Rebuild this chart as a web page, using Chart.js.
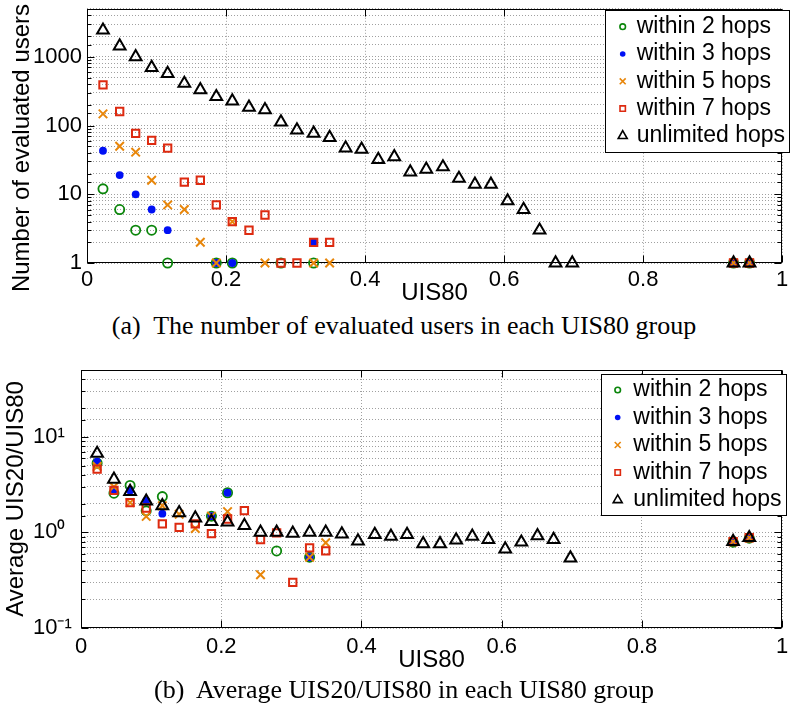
<!DOCTYPE html>
<html><head><meta charset="utf-8">
<script src="https://cdn.jsdelivr.net/npm/chart.js@4.4.1/dist/chart.umd.min.js"></script>
<style>
html,body{margin:0;padding:0;background:#fff;}
#wrap{position:relative;width:791px;height:720px;overflow:hidden;background:#fff;}
.cv{position:absolute;left:0;width:791px;}
.cap{position:absolute;left:0;width:808px;text-align:center;font-family:"Liberation Serif","Times New Roman",serif;font-size:26px;line-height:32px;color:#000;white-space:nowrap;}
</style></head><body>
<div id="wrap">
  <div class="cv" style="top:0;height:310px"><canvas id="c1"></canvas></div>
  <div class="cap" style="top:310px">(a)&nbsp; The number of evaluated users in each UIS80 group</div>
  <div class="cv" style="top:340px;height:335px"><canvas id="c2"></canvas></div>
  <div class="cap" style="top:674px">(b)&nbsp; Average UIS20/UIS80 in each UIS80 group</div>
</div>
<script>
// ---------- data ----------
const seriesNames = ['within 2 hops', 'within 3 hops', 'within 5 hops', 'within 7 hops', 'unlimited hops'];

// UIS80 group centres present in each series
const w2Groups = [0.023, 0.047, 0.070, 0.093, 0.116, 0.186, 0.209, 0.279, 0.326, 0.930, 0.953];
const w3Groups = [0.023, 0.047, 0.070, 0.093, 0.116, 0.186, 0.209, 0.326, 0.930, 0.953];
const w5Groups = [0.023, 0.047, 0.070, 0.093, 0.116, 0.140, 0.163, 0.186, 0.209, 0.256, 0.326, 0.349, 0.930, 0.953];
const w7Groups = [0.023, 0.047, 0.070, 0.093, 0.116, 0.140, 0.163, 0.186, 0.209, 0.233, 0.256, 0.279, 0.302, 0.326, 0.349, 0.930, 0.953];
const allGroups = [0.023, 0.047, 0.070, 0.093, 0.116, 0.140, 0.163, 0.186, 0.209, 0.233, 0.256, 0.279, 0.302, 0.326, 0.349, 0.372, 0.395, 0.419, 0.442, 0.465, 0.488, 0.512, 0.535, 0.558, 0.581, 0.605, 0.628, 0.651, 0.674, 0.698, 0.930, 0.953];

// (a) number of evaluated users
const countW2 = [12, 6, 3, 3, 1, 1, 1, 1, 1, 1, 1];
const countW3 = [43, 19, 10, 6, 3, 1, 1, 2, 1, 1];
const countW5 = [148, 50, 41, 16, 7, 6, 2, 1, 4, 1, 1, 1, 1, 1];
const countW7 = [390, 160, 77, 61, 47, 15, 16, 7, 4, 3, 5, 1, 1, 2, 2, 1, 1];
const countAll = [2440, 1430, 1000, 700, 570, 410, 330, 263, 227, 184, 169, 112, 86, 77, 67, 47, 45, 32, 35, 21, 23, 25, 17, 14, 14, 8, 6, 3, 1, 1, 1, 1];

// (b) average UIS20/UIS80
const ratioW2 = [5.3, 2.57, 3.1, 1.68, 2.37, 1.48, 2.6, 0.64, 0.55, 0.79, 0.87];
const ratioW3 = [5.5, 2.8, 2.75, 2.15, 1.57, 1.48, 2.6, 0.55, 0.79, 0.87];
const ratioW5 = [4.9, 3.0, 2.05, 1.47, 1.9, 1.55, 1.1, 1.48, 1.65, 0.36, 0.55, 0.78, 0.80, 0.88];
const ratioW7 = [4.6, 2.75, 2.05, 1.8, 1.23, 1.13, 1.23, 0.97, 1.38, 1.69, 0.84, 0.99, 0.30, 0.69, 0.64, 0.80, 0.88];
const ratioAll = [6.7, 3.6, 2.67, 2.12, 1.9, 1.6, 1.41, 1.3, 1.28, 1.18, 1.0, 1.0, 0.98, 1.0, 1.0, 0.96, 0.81, 0.95, 0.91, 0.95, 0.76, 0.76, 0.83, 0.91, 0.84, 0.67, 0.79, 0.92, 0.84, 0.54, 0.80, 0.88];

// tick labels
const xTickLabels = ['0', '0.2', '0.4', '0.6', '0.8', '1'];
const countTickLabels = ['1', '10', '100', '1000'];
const ratioTickLabels = ['10\u207B\u00B9', '10\u2070', '10\u00B9'];

// ---------- styles ----------
const FONT = '"Liberation Sans", Arial, Helvetica, sans-serif';
const styles = [
  {pointStyle: 'circle',   pointRadius: 4.6, pointBorderWidth: 1.8, pointBorderColor: '#0b860b', pointBackgroundColor: 'rgba(0,0,0,0)', order: 5, legR: 2.8},
  {pointStyle: 'circle',   pointRadius: 3.9, pointBorderWidth: 0,   pointBorderColor: '#0010f5', pointBackgroundColor: '#0010f5',       order: 4, legR: 2.8},
  {pointStyle: 'crossRot', pointRadius: 6,   pointBorderWidth: 2,   pointBorderColor: '#e8860a', pointBackgroundColor: 'rgba(0,0,0,0)', order: 3, legR: 4.2},
  {pointStyle: 'rect',     pointRadius: 5.2, pointBorderWidth: 2,   pointBorderColor: '#dd2a10', pointBackgroundColor: 'rgba(0,0,0,0)', order: 2, legR: 3.8},
  {pointStyle: 'triangle', pointRadius: 6.8, pointBorderWidth: 2,   pointBorderColor: '#000000', pointBackgroundColor: 'rgba(0,0,0,0)', order: 1, legR: 5.2}
];

function makeDatasets(groupLists, valueLists) {
  return groupLists.map((g, k) => Object.assign({
    label: seriesNames[k],
    data: g.map((x, i) => ({x: x, y: valueLists[k][i]})),
    showLine: false,
    clip: false,
    pointHoverRadius: styles[k].pointRadius
  }, styles[k]));
}

function isPow10(v) {
  const l = Math.log10(v);
  return Math.abs(l - Math.round(l)) < 1e-6;
}

// frame + inward MATLAB style ticks
const frameTicks = {
  id: 'frameTicks',
  beforeDatasetsDraw(chart) {
    const {ctx, chartArea: a, scales} = chart;
    const L = Math.round(a.left) + 0.5, R = Math.round(a.right) - 0.5;
    const T = Math.round(a.top) + 0.5, B = Math.round(a.bottom) - 0.5;
    ctx.save();
    ctx.strokeStyle = '#000';
    ctx.lineWidth = 1;
    ctx.beginPath();
    scales.y.ticks.forEach(t => {
      const p = Math.round(scales.y.getPixelForValue(t.value)) + 0.5;
      const len = isPow10(t.value) ? 7 : 4;
      ctx.moveTo(L, p); ctx.lineTo(L + len, p);
      ctx.moveTo(R, p); ctx.lineTo(R - len, p);
    });
    scales.x.ticks.forEach(t => {
      const p = Math.round(scales.x.getPixelForValue(t.value)) + 0.5;
      ctx.moveTo(p, B); ctx.lineTo(p, B - 7);
      ctx.moveTo(p, T); ctx.lineTo(p, T + 7);
    });
    ctx.stroke();
    ctx.strokeRect(L, T, R - L, B - T);
    ctx.restore();
  }
};

// free-positioned rotated y-axis title (used where the label is longer than the axis)
const sideTitle = {
  id: 'sideTitle',
  afterDraw(chart, args, o) {
    if (!o || !o.text) return;
    const ctx = chart.ctx;
    ctx.save();
    ctx.translate(o.x, o.y);
    ctx.rotate(-Math.PI / 2);
    ctx.font = o.size + 'px ' + FONT;
    ctx.fillStyle = '#000';
    ctx.textAlign = 'center';
    ctx.textBaseline = 'middle';
    ctx.fillText(o.text, 0, 0);
    ctx.restore();
  }
};

// boxed legend inside the axes
const boxLegend = {
  id: 'boxLegend',
  afterDraw(chart, args, o) {
    const ctx = chart.ctx;
    ctx.save();
    ctx.fillStyle = '#fff';
    ctx.fillRect(o.x, o.y, o.w, o.h);
    ctx.strokeStyle = '#000';
    ctx.lineWidth = 1;
    ctx.strokeRect(o.x + 0.5, o.y + 0.5, o.w, o.h);
    ctx.font = o.fontSize + 'px ' + FONT;
    ctx.textBaseline = 'middle';
    ctx.textAlign = 'left';
    chart.data.datasets.forEach((d, i) => {
      const cy = o.y + o.first + i * o.rowH;
      ctx.fillStyle = '#000';
      ctx.fillText(d.label, o.x + o.textX, cy);
      ctx.strokeStyle = d.pointBorderColor;
      ctx.fillStyle = d.pointBackgroundColor;
      ctx.lineWidth = d.pointBorderWidth === 0 ? 0 : 1.6;
      Chart.helpers.drawPoint(ctx, {pointStyle: d.pointStyle, radius: d.legR, borderWidth: d.pointBorderWidth === 0 ? 0 : 1.6, rotation: 0}, o.x + o.markerX, cy);
    });
    ctx.restore();
  }
};

function makeChart(id, datasets, cfg) {
  return new Chart(document.getElementById(id), {
    type: 'scatter',
    data: {datasets: datasets},
    plugins: [frameTicks, sideTitle, boxLegend],
    options: {
      responsive: true,
      maintainAspectRatio: false,
      animation: false,
      events: [],
      layout: {padding: cfg.padding},
      plugins: {legend: {display: false}, tooltip: {enabled: false}, boxLegend: cfg.legend, sideTitle: cfg.sideTitle},
      scales: {
        x: {
          type: 'linear', min: 0, max: 1,
          afterFit: s => { s.height = cfg.xHeight; s.paddingLeft = 0; s.paddingRight = 0; },
          ticks: {stepSize: 0.2, autoSkip: false, maxRotation: 0, padding: cfg.xTickPad, color: '#000',
                  font: {family: FONT, size: 22},
                  callback: v => xTickLabels[Math.round(v / 0.2)] ?? ''},
          grid: {color: '#a0a0a0', lineWidth: 1, drawTicks: false},
          border: {display: false, dash: [1, 2]},
          title: {display: true, text: 'UIS80', color: '#000', font: {family: FONT, size: 24}, padding: {top: 0, bottom: cfg.xTitlePad}}
        },
        y: {
          type: 'logarithmic', min: cfg.yMin, max: cfg.yMax,
          afterFit: s => { s.width = cfg.yWidth; s.paddingTop = 0; s.paddingBottom = 0; },
          ticks: {autoSkip: false, padding: 5, color: '#000', crossAlign: cfg.crossAlign,
                  font: {family: FONT, size: 22},
                  callback: cfg.yLabel},
          grid: {color: '#a0a0a0', lineWidth: 1, drawTicks: false},
          border: {display: false, dash: [1, 2]},
          title: {display: !!cfg.yTitle, text: cfg.yTitle || '', color: '#000', font: {family: FONT, size: 24}, padding: {top: cfg.yTitlePad, bottom: 0}}
        }
      }
    }
  });
}

makeChart('c1',
  makeDatasets([w2Groups, w3Groups, w5Groups, w7Groups, allGroups], [countW2, countW3, countW5, countW7, countAll]),
  {
    padding: {top: 5, right: 1, left: 0, bottom: 0},
    xHeight: 47, xTickPad: 4, xTitlePad: 2,
    yWidth: 87, yMin: 1, yMax: 5000, crossAlign: 'near', yTitlePad: 7,
    yTitle: null,
    sideTitle: {text: 'Number of evaluated users', x: 22, y: 148, size: 24},
    yLabel: v => { if (!isPow10(v)) return ''; const r = Math.round(Math.log10(v)); return countTickLabels[r] ?? ''; },
    legend: {x: 605, y: 10, w: 184, h: 142, first: 16.7, rowH: 27.3, markerX: 17.7, textX: 31.7, fontSize: 23}
  });

makeChart('c2',
  makeDatasets([w2Groups, w3Groups, w5Groups, w7Groups, allGroups], [ratioW2, ratioW3, ratioW5, ratioW7, ratioAll]),
  {
    padding: {top: 30, right: 2, left: 33, bottom: 0},
    xHeight: 47, xTickPad: 6, xTitlePad: 0,
    yWidth: 48, yMin: 0.1, yMax: 50, crossAlign: 'far', yTitlePad: -31,
    yTitle: 'Average UIS20/UIS80',
    sideTitle: null,
    yLabel: v => { if (!isPow10(v)) return ''; const r = Math.round(Math.log10(v)); return ratioTickLabels[r + 1] ?? ''; },
    legend: {x: 601, y: 34, w: 185, h: 141, first: 16, rowH: 27.5, markerX: 16.7, textX: 32.3, fontSize: 23}
  });
</script>
</body></html>
